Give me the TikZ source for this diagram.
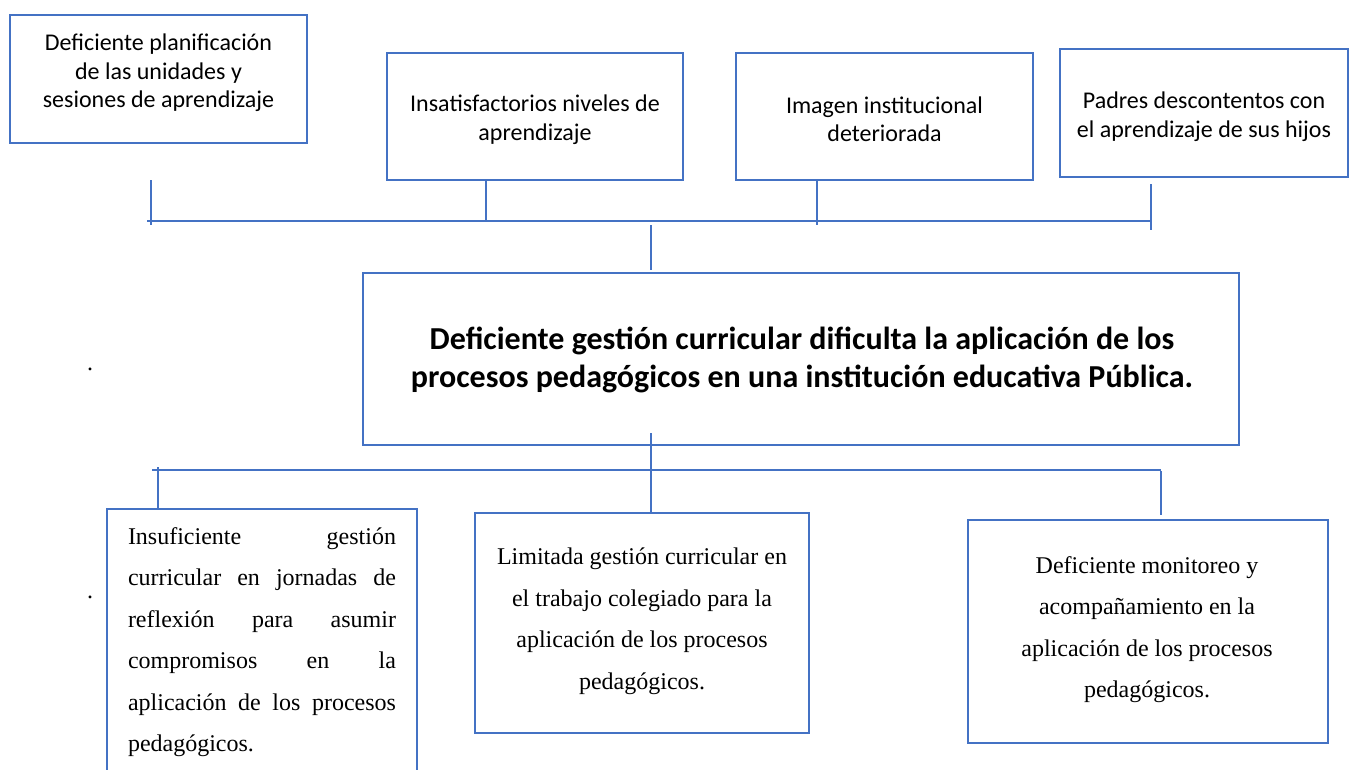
\documentclass[tikz,border=0pt]{standalone}
\usepackage{fontspec}
\setmainfont{Liberation Serif}
\newfontfamily\calfont{Carlito}
\definecolor{obl}{HTML}{4472C4}
\newcommand{\jline}[1]{\leavevmode\hbox to 268pt{\spaceskip=0pt plus 1fil\relax\xspaceskip=0pt\relax #1}}
\begin{document}
\begin{tikzpicture}[x=1pt,y=-1pt,
  box/.style={draw=obl,line width=2.6pt,inner sep=0pt,rectangle},
  conn/.style={draw=obl,line width=1.3pt},
  toptxt/.style={font=\calfont\fontsize{24}{28.5}\selectfont,align=center,inner sep=0pt},
  ctxt/.style={font=\calfont\bfseries\fontsize{32}{38.5}\selectfont,align=center,inner sep=0pt},
  btxt/.style={font=\fontsize{24}{41.5}\selectfont,align=center,inner sep=0pt},
  jtxt/.style={font=\fontsize{24}{41.5}\selectfont,text width=268pt,align=left,inner sep=0pt},
  dot/.style={font=\fontsize{24}{24}\selectfont,inner sep=0pt,anchor=base}]
\useasboundingbox (0,0) rectangle (1349,769);
\clip (0,0) rectangle (1349,769);
% top boxes
\node[box,minimum width=297pt,minimum height=128pt] (b1) at (158.5,79) {};
\node[box,minimum width=296pt,minimum height=127pt] (b2) at (535,116.5) {};
\node[box,minimum width=297pt,minimum height=127pt] (b3) at (884.5,116.5) {};
\node[box,minimum width=288pt,minimum height=128pt] (b4) at (1204,113) {};
\node[toptxt] (t1) at (158.5,73) {Deficiente planificación\\de las unidades y\\sesiones de aprendizaje};
\node[toptxt] (t2) at (535,119.5) {Insatisfactorios niveles de\\aprendizaje};
\node[toptxt] (t3) at (884.5,119.5) {Imagen institucional\\deteriorada};
\node[toptxt] (t4) at (1204,116.5) {Padres descontentos con\\el aprendizaje de sus hijos};
% central box
\node[box,minimum width=876pt,minimum height=172pt] (bc) at (801,359) {};
\node[ctxt] (tc) at (802,360) {Deficiente gestión curricular dificulta la aplicación de los\\procesos pedagógicos en una institución educativa Pública.};
% bottom boxes
\node[box,minimum width=310pt,minimum height=291pt] (bl) at (262,654.5) {};
\node[box,minimum width=334pt,minimum height=220pt] (bm) at (642,623) {};
\node[box,minimum width=360pt,minimum height=223pt] (br) at (1148,631.5) {};
\node[jtxt] (tl) at (262,642) {\jline{Insuficiente gestión}\\
\jline{curricular en jornadas de}\\
\jline{reflexión para asumir}\\
\jline{compromisos en la}\\
\jline{aplicación de los procesos}\\
pedagógicos.};
\node[btxt] (tm) at (642,621) {Limitada gestión curricular en\\el trabajo colegiado para la\\aplicación de los procesos\\pedagógicos.};
\node[btxt] (tr) at (1147,629.5) {Deficiente monitoreo y\\acompañamiento en la\\aplicación de los procesos\\pedagógicos.};
% dots
\node[dot] (d1) at (90,370) {.};
\node[dot] (d2) at (90,598) {.};
% top connectors
\coordinate (tL) at (147,221);
\coordinate (tR) at (1151,221);
\draw[conn] (tL) -- (tR);
\coordinate (v1a) at (151,180);
\coordinate (v1b) at (151,225);
\draw[conn] (v1a) -- (v1b);
\coordinate (v2b) at (486,222);
\draw[conn] (b2.south -| v2b) -- (v2b);
\coordinate (v3b) at (817,225);
\draw[conn] (b3.south -| v3b) -- (v3b);
\coordinate (v4a) at (1151,184);
\coordinate (v4b) at (1151,230);
\draw[conn] (v4a) -- (v4b);
\coordinate (vct) at (651,225);
\coordinate (vcb) at (651,270);
\draw[conn] (vct) -- (vcb);
% bottom connectors
\coordinate (bL) at (152,470);
\coordinate (bR) at (1161,470);
\draw[conn] (bL) -- (bR);
\coordinate (vl) at (158,467);
\draw[conn] (vl) -- (bl.north -| vl);
\coordinate (vm) at (651,433);
\draw[conn] (vm) -- (bm.north -| vm);
\coordinate (vra) at (1161,471);
\coordinate (vrb) at (1161,515);
\draw[conn] (vra) -- (vrb);
\end{tikzpicture}
\end{document}
